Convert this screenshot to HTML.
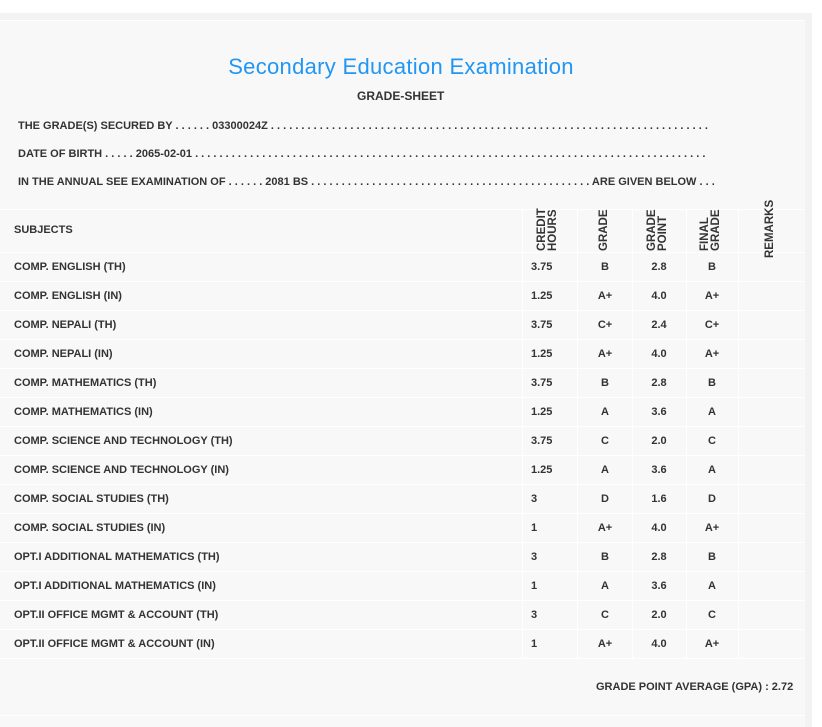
<!DOCTYPE html>
<html><head><style>
body{margin:0;width:822px;height:727px;background:#fff;position:relative;overflow:hidden;font-family:"Liberation Sans","DejaVu Sans",sans-serif;color:#333;}
.band{position:absolute;left:0;top:13px;width:812px;height:714px;background:#f3f3f3;}
.panel{position:absolute;left:0;top:21px;width:805px;height:706px;background:#f8f8f8;}
.t{position:absolute;font-size:11px;font-weight:bold;white-space:nowrap;}
.h{position:absolute;left:0;width:805px;height:1px;background:#fff;}
.v{position:absolute;width:1px;background:#fff;}
.c{position:absolute;font-size:11px;font-weight:bold;text-align:center;}
.rot{position:absolute;font-size:11.5px;font-weight:bold;line-height:11px;transform:rotate(-90deg);transform-origin:left top;white-space:nowrap;z-index:2;}
</style></head><body>
<div class="band"></div>
<div class="panel"></div>
<div style="position:absolute;left:0;top:20px;width:805px;height:1px;background:#fff"></div>
<div style="position:absolute;left:0;top:54px;width:802px;text-align:center;font-size:22px;color:#2196f3;letter-spacing:0.3px">Secondary Education Examination</div>
<div class="t" style="left:357px;top:89px;font-size:12px">GRADE-SHEET</div>
<div class="t" id="l1" style="left:18px;top:120px">THE GRADE(S) SECURED BY . . . . . . 03300024Z . . . . . . . . . . . . . . . . . . . . . . . . . . . . . . . . . . . . . . . . . . . . . . . . . . . . . . . . . . . . . . . . . . . . . . . . .</div>
<div class="t" id="l2" style="left:18px;top:148px">DATE OF BIRTH . . . . . 2065-02-01 . . . . . . . . . . . . . . . . . . . . . . . . . . . . . . . . . . . . . . . . . . . . . . . . . . . . . . . . . . . . . . . . . . . . . . . . . . . . . . . . . . . . . . . . . . . .</div>
<div class="t" id="l3" style="left:18px;top:176px">IN THE ANNUAL SEE EXAMINATION OF . . . . . . 2081 BS . . . . . . . . . . . . . . . . . . . . . . . . . . . . . . . . . . . . . . . . . . . . . . ARE GIVEN BELOW . . .</div>
<div class="h" style="top:209px"></div>
<div class="h" style="top:715px"></div>
<div class="t" style="left:14px;top:224px">SUBJECTS</div>
<div class="rot" style="left:537px;top:251px">CREDIT<br>HOURS</div>
<div class="rot" style="left:599px;top:251px">GRADE</div>
<div class="rot" style="left:647px;top:251px">GRADE<br>POINT</div>
<div class="rot" style="left:700px;top:251px">FINAL<br>GRADE</div>
<div class="rot" style="left:765px;top:258px">REMARKS</div>
<div id="rows"></div>
<div class="t" style="left:596px;top:681px">GRADE POINT AVERAGE (GPA) : 2.72</div>
<script>
var d=[["COMP. ENGLISH (TH)","3.75","B","2.8","B"],["COMP. ENGLISH (IN)","1.25","A+","4.0","A+"],["COMP. NEPALI (TH)","3.75","C+","2.4","C+"],["COMP. NEPALI (IN)","1.25","A+","4.0","A+"],["COMP. MATHEMATICS (TH)","3.75","B","2.8","B"],["COMP. MATHEMATICS (IN)","1.25","A","3.6","A"],["COMP. SCIENCE AND TECHNOLOGY (TH)","3.75","C","2.0","C"],["COMP. SCIENCE AND TECHNOLOGY (IN)","1.25","A","3.6","A"],["COMP. SOCIAL STUDIES (TH)","3","D","1.6","D"],["COMP. SOCIAL STUDIES (IN)","1","A+","4.0","A+"],["OPT.I ADDITIONAL MATHEMATICS (TH)","3","B","2.8","B"],["OPT.I ADDITIONAL MATHEMATICS (IN)","1","A","3.6","A"],["OPT.II OFFICE MGMT & ACCOUNT (TH)","3","C","2.0","C"],["OPT.II OFFICE MGMT & ACCOUNT (IN)","1","A+","4.0","A+"]];
var h="";
h+='<div class="h" style="top:252px"></div>';
d.forEach(function(r,i){var y=253+i*29;
h+='<div class="h" style="top:'+(y+28)+'px"></div>';
h+='<div class="t" style="left:14px;top:'+(y+8)+'px">'+r[0].replace("&","&amp;")+'</div>';
h+='<div class="t" style="left:531px;top:'+(y+8)+'px">'+r[1]+'</div>';
h+='<div class="c" style="left:578px;width:54px;top:'+(y+8)+'px">'+r[2]+'</div>';
h+='<div class="c" style="left:632px;width:54px;top:'+(y+8)+'px">'+r[3]+'</div>';
h+='<div class="c" style="left:686px;width:52px;top:'+(y+8)+'px">'+r[4]+'</div>';});
[522,577,632,686,738].forEach(function(x){h+='<div class="v" style="left:'+x+'px;top:209px;height:449px"></div>';});
document.getElementById("rows").innerHTML=h;
// trim dotted lines to target right edges
function fit(id,maxR){var e=document.getElementById(id);var s=e.textContent;while(e.getBoundingClientRect().right>maxR&&/ \.$/.test(s)){s=s.slice(0,-2);e.textContent=s;}}
fit("l1",714);fit("l2",707);
</script>
</body></html>
